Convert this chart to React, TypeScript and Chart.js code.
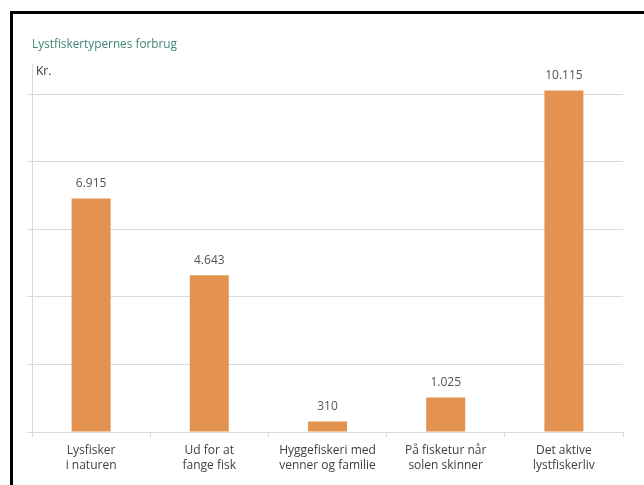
import React, { useEffect, useRef } from "react";
import { Chart, registerables } from "chart.js";

Chart.register(...registerables);

const categories: string[][] = [
  ["Lysfisker", "i naturen"],
  ["Ud for at", "fange fisk"],
  ["Hyggefiskeri med", "venner og familie"],
  ["På fisketur når", "solen skinner"],
  ["Det aktive", "lystfiskerliv"],
];
const values: number[] = [6915, 4643, 310, 1025, 10115];
const yTicks: number[] = [0, 2000, 4000, 6000, 8000, 10000];
const yMax = 10900;
const chartTitle = "Lystfiskertypernes forbrug";
const unitLabel = "Kr.";

const FONT = "'Open Sans', 'Noto Sans', sans-serif";
const GRID = "#dadada";

function fmt(v: number): string {
  const s = Math.round(v).toString();
  return s.replace(/\B(?=(\d{3})+(?!\d))/g, ".");
}

const textPlugin = {
  id: "customText",
  afterDraw(chart: any) {
    const ctx = chart.ctx;
    const area = chart.chartArea;
    ctx.save();
    ctx.textBaseline = "middle";
    ctx.textAlign = "left";
    ctx.font = `11.8px ${FONT}`;
    ctx.fillStyle = "#3d8676";
    ctx.fillText(chartTitle, area.left, 45);
    ctx.font = `12px ${FONT}`;
    ctx.fillStyle = "#333333";
    ctx.fillText(unitLabel, area.left + 4, 72);
    const meta = chart.getDatasetMeta(0);
    ctx.textAlign = "center";
    ctx.fillStyle = "#555555";
    ctx.font = `12px ${FONT}`;
    meta.data.forEach((bar: any, i: number) => {
      ctx.fillText(fmt(values[i]), bar.x, bar.y - 15);
    });
    ctx.restore();
  },
};

export default function App() {
  const ref = useRef<HTMLCanvasElement | null>(null);
  useEffect(() => {
    if (!ref.current) return;
    const chart = new Chart(ref.current, {
      type: "bar",
      data: {
        labels: categories,
        datasets: [
          {
            data: values,
            backgroundColor: "#e3934f",
            borderWidth: 0,
            barPercentage: 0.33,
            categoryPercentage: 1,
          },
        ],
      },
      options: {
        responsive: false,
        animation: false,
        devicePixelRatio: 1,
        layout: { padding: { left: 27, right: 21, top: 64, bottom: 6 } },
        plugins: {
          legend: { display: false },
          tooltip: { enabled: false },
          title: { display: false },
        },
        scales: {
          x: {
            grid: {
              drawOnChartArea: false,
              drawTicks: true,
              tickLength: 5,
              color: GRID,
            },
            border: { display: true, color: GRID },
            ticks: {
              color: "#404040",
              font: { family: FONT, size: 12, lineHeight: 1.25 },
              padding: 6,
              maxRotation: 0,
              autoSkip: false,
            },
          },
          y: {
            min: 0,
            max: yMax,
            afterBuildTicks: (scale: any) => {
              scale.ticks = yTicks.map((v) => ({ value: v }));
            },
            ticks: { display: false },
            grid: { color: GRID, tickLength: 5, drawTicks: true },
            border: { display: true, color: GRID },
          },
        },
      },
      plugins: [textPlugin],
    });
    return () => chart.destroy();
  }, []);
  return (
    <div>
      <div
        style={{
          position: "fixed",
          left: 10,
          top: 11,
          width: 700,
          height: 600,
          border: "3px solid #000",
          background: "#fff",
        }}
      />
      <canvas
        ref={ref}
        width={644}
        height={485}
        style={{ position: "fixed", left: 0, top: 0, width: 644, height: 485 }}
      />
    </div>
  );
}
